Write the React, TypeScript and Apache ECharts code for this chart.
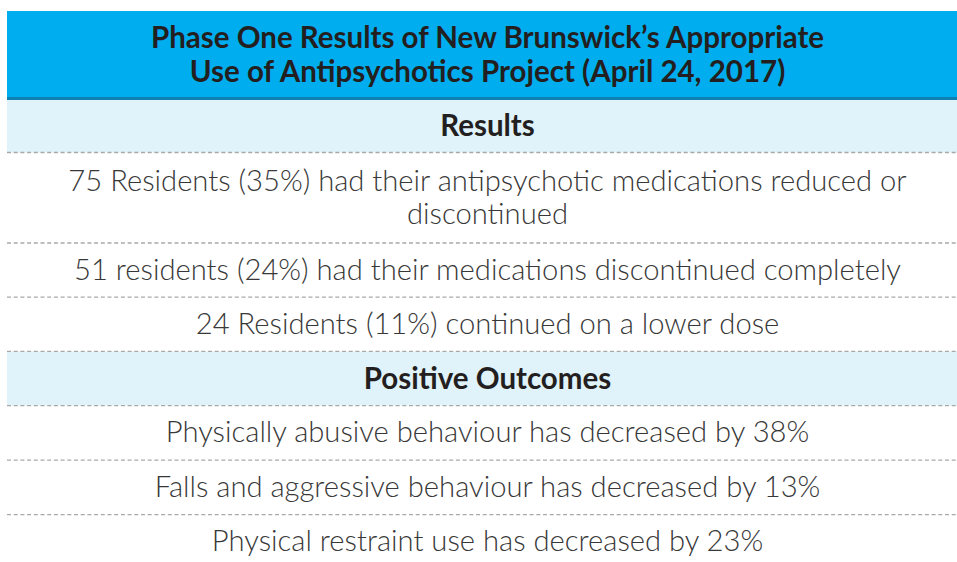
import React, { useEffect, useRef } from "react";
import * as echarts from "echarts";

const titleLines = [
  "Phase One Results of New Brunswick\u2019s Appropriate",
  "Use of Antipsychotics Project (April 24, 2017)",
];

const sectionResults = "Results";
const resultRows = [
  "75 Residents (35%) had their antipsychotic medications reduced or\ndiscontinued",
  "51 residents (24%) had their medications discontinued completely",
  "24 Residents (11%) continued on a lower dose",
];

const sectionOutcomes = "Positive Outcomes";
const outcomeRows = [
  "Physically abusive behaviour has decreased by 38%",
  "Falls and aggressive behaviour has decreased by 13%",
  "Physical restraint use has decreased by 23%",
];

const W = 957;
const H = 562;
const LEFT = 7;
const RIGHT = 968;
const CX = 487.5;

export default function App() {
  const ref = useRef<HTMLDivElement>(null);

  useEffect(() => {
    if (!ref.current) return;
    const chart = echarts.init(ref.current, null, { renderer: "svg" });
    const g: any[] = [];

    const titleTop = 11;
    const titleBottom = 97;
    g.push({
      type: "rect",
      shape: { x: LEFT, y: titleTop, width: RIGHT - LEFT, height: titleBottom - titleTop },
      style: { fill: "#00adee" },
    });
    g.push({
      type: "rect",
      shape: { x: LEFT, y: titleBottom, width: RIGHT - LEFT, height: 3 },
      style: { fill: "#0f80b2" },
    });
    g.push({
      type: "text",
      x: CX,
      y: (titleTop + titleBottom) / 2 - 1,
      style: {
        text: titleLines.join("\n"),
        textAlign: "center",
        textVerticalAlign: "middle",
        font: "bold 29.5px Lato",
        lineHeight: 34,
        fill: "#231f20",
      },
    });

    let y = 100;
    const dash = (yy: number) => {
      g.push({
        type: "line",
        shape: { x1: LEFT, y1: yy, x2: RIGHT, y2: yy },
        style: { stroke: "#a9a9a9", lineWidth: 1.3, lineDash: [4, 2.7] },
        z: 10,
      });
    };

    const section = (label: string, h: number) => {
      g.push({
        type: "rect",
        shape: { x: LEFT, y, width: RIGHT - LEFT, height: h },
        style: { fill: "#e0f2fa" },
      });
      g.push({
        type: "text",
        x: CX,
        y: y + h / 2 - 1.5,
        style: {
          text: label,
          textAlign: "center",
          textVerticalAlign: "middle",
          font: "bold 29.5px Lato",
          fill: "#231f20",
        },
      });
      y += h;
      dash(y);
    };

    const row = (label: string, h: number, last = false) => {
      g.push({
        type: "text",
        x: CX,
        y: y + h / 2 - 2,
        style: {
          text: label,
          textAlign: "center",
          textVerticalAlign: "middle",
          font: "300 29.2px Lato",
          lineHeight: 33,
          fill: "#383838",
        },
      });
      y += h;
      if (!last) dash(y);
    };

    section(sectionResults, 52.5);
    resultRows.forEach((r, i) => row(r, i === 0 ? 90.5 : 54.2));
    section(sectionOutcomes, 54.2);
    outcomeRows.forEach((r, i) => row(r, i === outcomeRows.length - 1 ? 54 : 54.5, i === outcomeRows.length - 1));

    chart.setOption({ animation: false, graphic: { elements: g } });
    return () => chart.dispose();
  }, []);

  return (
    <div
      ref={ref}
      style={{ position: "fixed", left: 0, top: 0, width: W, height: H, background: "#fff" }}
    />
  );
}
